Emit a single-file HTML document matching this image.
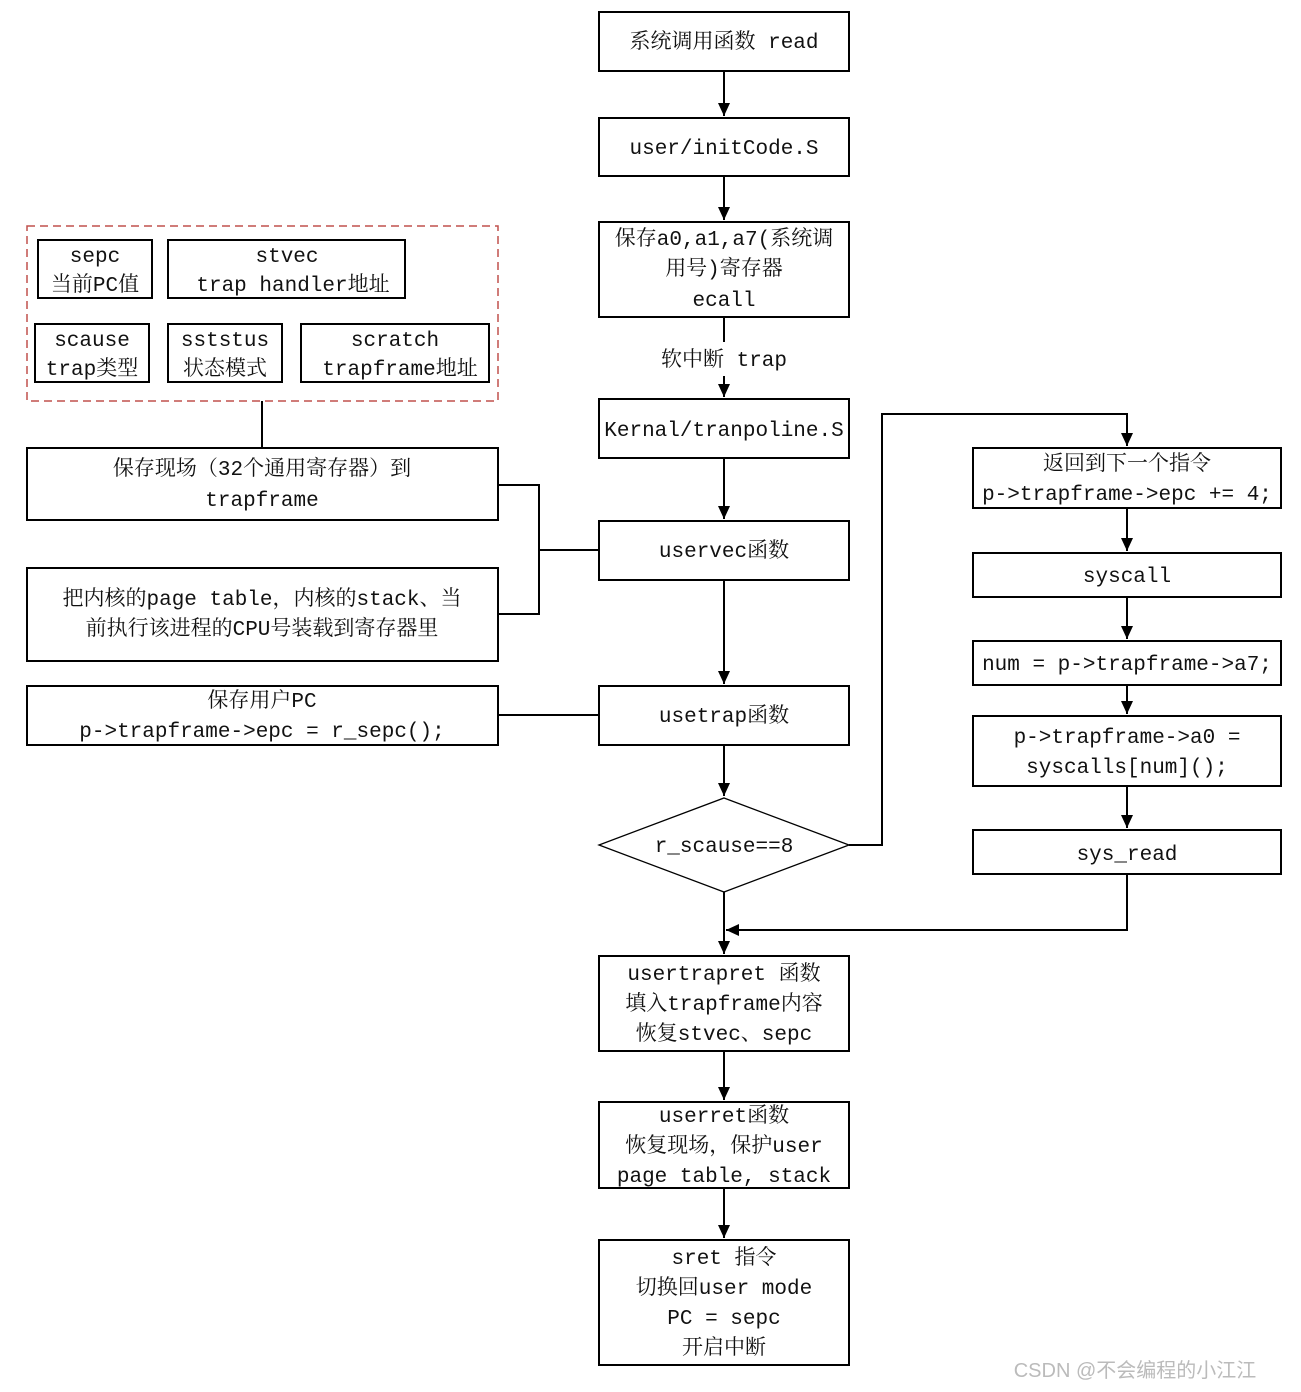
<!DOCTYPE html>
<html><head><meta charset="utf-8"><style>
html,body{margin:0;padding:0;background:#fff;}
svg{display:block;}
text{font-family:"Liberation Mono","Noto Serif CJK SC",monospace;font-size:21px;fill:#111;text-anchor:middle;}
</style></head><body>
<svg width="1301" height="1392" viewBox="0 0 1301 1392" xmlns="http://www.w3.org/2000/svg">
<defs><marker id="a" markerWidth="10" markerHeight="10" refX="9" refY="5" orient="auto" markerUnits="userSpaceOnUse"><path d="M0,0 L10,5 L0,10 z" fill="#000"/></marker>
<marker id="b" markerWidth="14" markerHeight="14" refX="13" refY="6" orient="auto" markerUnits="userSpaceOnUse"><path d="M0,0 L13,6 L0,12 z" fill="#000"/></marker></defs>
<g fill="none" stroke="#000" stroke-width="2">
<!-- center boxes -->
<rect x="599" y="12" width="250" height="59"/>
<rect x="599" y="118" width="250" height="58"/>
<rect x="599" y="222" width="250" height="95"/>
<rect x="599" y="399" width="250" height="59"/>
<rect x="599" y="521" width="250" height="59"/>
<rect x="599" y="686" width="250" height="59"/>
<polygon points="724,798 849,845 724,892 599,845" stroke-width="1.3"/>
<rect x="599" y="956" width="250" height="95"/>
<rect x="599" y="1102" width="250" height="86"/>
<rect x="599" y="1240" width="250" height="125"/>
<!-- right boxes -->
<rect x="973" y="448" width="308" height="60"/>
<rect x="973" y="553" width="308" height="44"/>
<rect x="973" y="641" width="308" height="44"/>
<rect x="973" y="716" width="308" height="70"/>
<rect x="973" y="830" width="308" height="44"/>
<!-- left -->
<rect x="27" y="226" width="471" height="175" stroke="#c0504d" stroke-width="1.5" stroke-dasharray="8,5"/>
<rect x="38" y="240" width="114" height="58"/>
<rect x="168" y="240" width="237" height="58"/>
<rect x="35" y="324" width="114" height="58"/>
<rect x="168" y="324" width="114" height="58"/>
<rect x="301" y="324" width="188" height="58"/>
<rect x="27" y="448" width="471" height="72"/>
<rect x="27" y="568" width="471" height="93"/>
<rect x="27" y="686" width="471" height="59"/>
<!-- connectors -->
<path d="M724,71 V116" marker-end="url(#b)"/>
<path d="M724,176 V220" marker-end="url(#b)"/>
<path d="M724,317 V342"/>
<path d="M724,376 V397" marker-end="url(#b)"/>
<path d="M724,458 V519" marker-end="url(#b)"/>
<path d="M724,580 V684" marker-end="url(#b)"/>
<path d="M724,745 V796" marker-end="url(#b)"/>
<path d="M724,892 V954" marker-end="url(#b)"/>
<path d="M724,1051 V1100" marker-end="url(#b)"/>
<path d="M724,1188 V1238" marker-end="url(#b)"/>
<path d="M849,845 H882 V414 H1127 V446" marker-end="url(#b)"/>
<path d="M1127,508 V551" marker-end="url(#b)"/>
<path d="M1127,597 V639" marker-end="url(#b)"/>
<path d="M1127,685 V714" marker-end="url(#b)"/>
<path d="M1127,786 V828" marker-end="url(#b)"/>
<path d="M1127,874 V930 H726" marker-end="url(#b)"/>
<path d="M262,401 V448"/>
<path d="M498,485 H539 V614 H498"/>
<path d="M539,550 H599"/>
<path d="M498,715 H599"/>
</g>
<text x="724" y="48">系统调用函数 read</text>
<text x="724" y="154">user/initCode.S</text>
<text x="724" y="245">保存a0,a1,a7(系统调</text>
<text x="724" y="275">用号)寄存器</text>
<text x="724" y="306">ecall</text>
<text x="724" y="366">软中断 trap</text>
<text x="724" y="436">Kernal/tranpoline.S</text>
<text x="724" y="557">uservec函数</text>
<text x="724" y="722">usetrap函数</text>
<text x="724" y="852">r_scause==8</text>
<text x="724" y="980">usertrapret 函数</text>
<text x="724" y="1010">填入trapframe内容</text>
<text x="724" y="1040">恢复stvec、sepc</text>
<text x="724" y="1122">userret函数</text>
<text x="724" y="1152">恢复现场，保护user</text>
<text x="724" y="1182">page table, stack</text>
<text x="724" y="1264">sret 指令</text>
<text x="724" y="1294">切换回user mode</text>
<text x="724" y="1324">PC = sepc</text>
<text x="724" y="1354">开启中断</text>
<text x="1127" y="470">返回到下一个指令</text>
<text x="1127" y="500">p-&gt;trapframe-&gt;epc += 4;</text>
<text x="1127" y="582">syscall</text>
<text x="1127" y="670">num = p-&gt;trapframe-&gt;a7;</text>
<text x="1127" y="743">p-&gt;trapframe-&gt;a0 =</text>
<text x="1127" y="773">syscalls[num]();</text>
<text x="1127" y="860">sys_read</text>
<text x="95" y="262">sepc</text>
<text x="95" y="291">当前PC值</text>
<text x="287" y="262">stvec</text>
<text x="293" y="291">trap handler地址</text>
<text x="92" y="346">scause</text>
<text x="92" y="375">trap类型</text>
<text x="225" y="346">sststus</text>
<text x="225" y="375">状态模式</text>
<text x="395" y="346">scratch</text>
<text x="400" y="375">trapframe地址</text>
<text x="262" y="475">保存现场（32个通用寄存器）到</text>
<text x="262" y="506">trapframe</text>
<text x="262" y="605">把内核的page table，内核的stack、当</text>
<text x="262" y="635">前执行该进程的CPU号装载到寄存器里</text>
<text x="262" y="707">保存用户PC</text>
<text x="262" y="737">p-&gt;trapframe-&gt;epc = r_sepc();</text>
<text x="1135" y="1377" style="font-family:'Liberation Sans','Noto Sans CJK SC',sans-serif;fill:#bbb;font-size:20px">CSDN @不会编程的小江江</text>
</svg>
</body></html>
